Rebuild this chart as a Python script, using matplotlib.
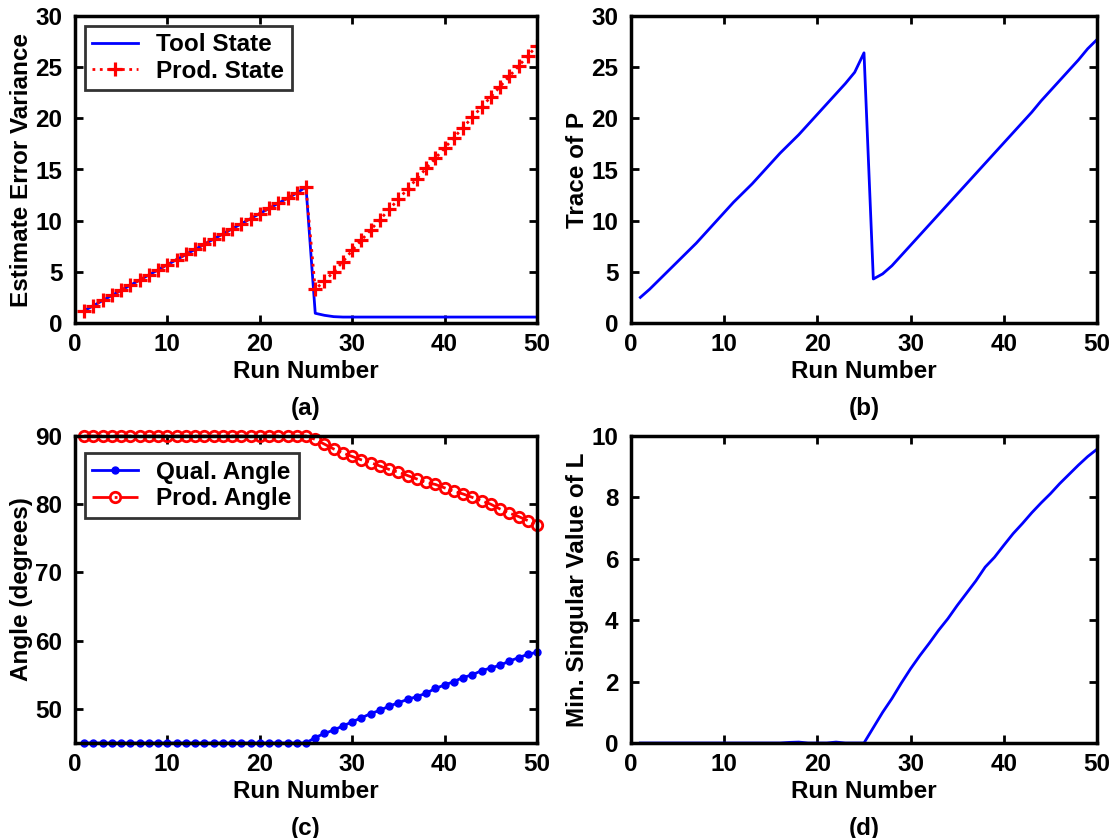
import numpy as np
import matplotlib
matplotlib.use("Agg")
import matplotlib.pyplot as plt

plt.rcParams['font.family'] = ['Liberation Sans', 'DejaVu Sans']
plt.rcParams['font.weight'] = 'bold'
plt.rcParams['font.size'] = 17.5
plt.rcParams['axes.labelweight'] = 'bold'
plt.rcParams['axes.linewidth'] = 2.5

runs = np.arange(1, 51)

# (a) estimate error variance
tool_state = [1.2, 1.7, 2.2, 2.7, 3.2, 3.7, 4.2, 4.7, 5.2, 5.7,
              6.2, 6.7, 7.2, 7.7, 8.2, 8.7, 9.2, 9.7, 10.2, 10.7,
              11.2, 11.7, 12.2, 12.7, 13.3,
              0.95, 0.75, 0.62, 0.58, 0.58, 0.58, 0.58, 0.58, 0.58, 0.58,
              0.58, 0.58, 0.58, 0.58, 0.58, 0.58, 0.58, 0.58, 0.58, 0.58,
              0.58, 0.58, 0.58, 0.58, 0.58]
prod_state = [1.2, 1.7, 2.2, 2.7, 3.2, 3.7, 4.2, 4.7, 5.2, 5.7,
              6.2, 6.7, 7.2, 7.7, 8.2, 8.7, 9.2, 9.7, 10.2, 10.7,
              11.2, 11.7, 12.2, 12.7, 13.3,
              3.3, 4.1, 5.0, 6.0, 7.1, 8.1, 9.1, 10.1, 11.1, 12.1,
              13.1, 14.1, 15.1, 16.1, 17.1, 18.1, 19.1, 20.1, 21.1, 22.1,
              23.1, 24.1, 25.1, 26.1, 27.1]

# (b) trace of P
trace_p = [2.5, 3.3, 4.2, 5.1, 6.0, 6.9, 7.8, 8.8, 9.8, 10.8,
           11.8, 12.7, 13.6, 14.6, 15.6, 16.6, 17.5, 18.4, 19.4, 20.4,
           21.4, 22.4, 23.4, 24.5, 26.4,
           4.3, 4.8, 5.6, 6.6, 7.6, 8.6, 9.6, 10.6, 11.6, 12.6,
           13.6, 14.6, 15.6, 16.6, 17.6, 18.6, 19.6, 20.6, 21.7, 22.7,
           23.7, 24.7, 25.7, 26.8, 27.7]

# (c) angles in degrees
qual_angle = [45.0] * 25 + [45.8, 46.4, 46.9, 47.5, 48.1, 48.7, 49.3, 49.8, 50.4, 50.9,
                            51.4, 51.8, 52.3, 53.0, 53.5, 54.0, 54.6, 55.0, 55.6, 56.0,
                            56.4, 57.0, 57.5, 58.0, 58.3]
prod_angle = [90.0] * 25 + [89.5, 88.8, 88.1, 87.5, 87.0, 86.5, 86.1, 85.6, 85.1, 84.7,
                            84.2, 83.7, 83.2, 82.9, 82.4, 81.9, 81.5, 81.0, 80.5, 80.0,
                            79.3, 78.7, 78.2, 77.6, 76.9]

# (d) minimum singular value of L
min_sv = [0.0, 0.0, 0.0, 0.0, 0.0, 0.0, 0.0, 0.0, 0.0, 0.0,
          0.0, 0.0, 0.0, 0.0, 0.0, 0.0, 0.02, 0.03, 0.0, 0.0,
          0.0, 0.03, 0.0, 0.0, 0.0,
          0.5, 1.0, 1.45, 1.95, 2.42, 2.85, 3.25, 3.67, 4.05, 4.48,
          4.88, 5.28, 5.73, 6.05, 6.44, 6.82, 7.15, 7.5, 7.82, 8.12,
          8.45, 8.75, 9.05, 9.33, 9.57]

fig = plt.figure(figsize=(11.16, 8.38), dpi=100)

W, H = 1116, 838
def px_axes(left, top, right, bottom):
    return fig.add_axes([left / W, 1 - bottom / H, (right - left) / W, (bottom - top) / H])

ax_a = px_axes(75, 16, 537, 323)
ax_b = px_axes(631, 16, 1097, 323)
ax_c = px_axes(75, 436, 537, 743)
ax_d = px_axes(631, 436, 1097, 743)

for ax, tag in [(ax_a, '(a)'), (ax_b, '(b)'), (ax_c, '(c)'), (ax_d, '(d)')]:
    ax.set_xlim(0, 50)
    ax.set_xticks([0, 10, 20, 30, 40, 50])
    ax.tick_params(direction='in', top=True, right=True, length=6, width=2, labelsize=17.5)
    ax.tick_params(axis='x', pad=7)
    ax.tick_params(axis='y', pad=9)
    ax.set_xlabel('Run Number', fontsize=17.5, labelpad=3)
    ax.text(0.5, -0.277, tag, transform=ax.transAxes, ha='center', va='center', fontsize=17.5)

leg_kw = dict(loc='upper left', fontsize=17.5, frameon=True, fancybox=False,
              edgecolor='black', borderpad=0.3, handlelength=1.9, labelspacing=0.15,
              handletextpad=0.75, borderaxespad=0.4)

# (a)
ax_a.plot(runs, tool_state, color='blue', lw=2, label='Tool State')
ax_a.plot(runs, prod_state, color='red', lw=2, ls=':', marker='+', ms=9.5, mew=2.3,
          label='Prod. State')
ax_a.set_ylim(0, 30)
ax_a.set_yticks(np.arange(0, 31, 5))
ax_a.set_ylabel('Estimate Error Variance', labelpad=2)
leg = ax_a.legend(**leg_kw)
leg.get_frame().set_linewidth(2)

# (b)
ax_b.plot(runs, trace_p, color='blue', lw=2)
ax_b.set_ylim(0, 30)
ax_b.set_yticks(np.arange(0, 31, 5))
ax_b.set_ylabel('Trace of P', labelpad=2)

# (c)
ax_c.plot(runs, qual_angle, color='blue', lw=2, marker='.', ms=10, label='Qual. Angle')
ax_c.plot(runs, prod_angle, color='red', lw=2, ls='-.', marker='o', ms=7.5,
          mfc='none', mew=2, label='Prod. Angle')
ax_c.set_ylim(45, 90)
ax_c.set_yticks([50, 60, 70, 80, 90])
ax_c.set_ylabel('Angle (degrees)', labelpad=2)
leg = ax_c.legend(bbox_to_anchor=(0.0, 0.975), **leg_kw)
leg.get_frame().set_linewidth(2)
for line in ax_c.get_lines():
    line.set_clip_on(False)

# (d)
ax_d.plot(runs, min_sv, color='blue', lw=2)
ax_d.set_ylim(0, 10)
ax_d.set_yticks([0, 2, 4, 6, 8, 10])
ax_d.set_ylabel('Min. Singular Value of L', labelpad=2)

fig.savefig('out.png', dpi=100)
